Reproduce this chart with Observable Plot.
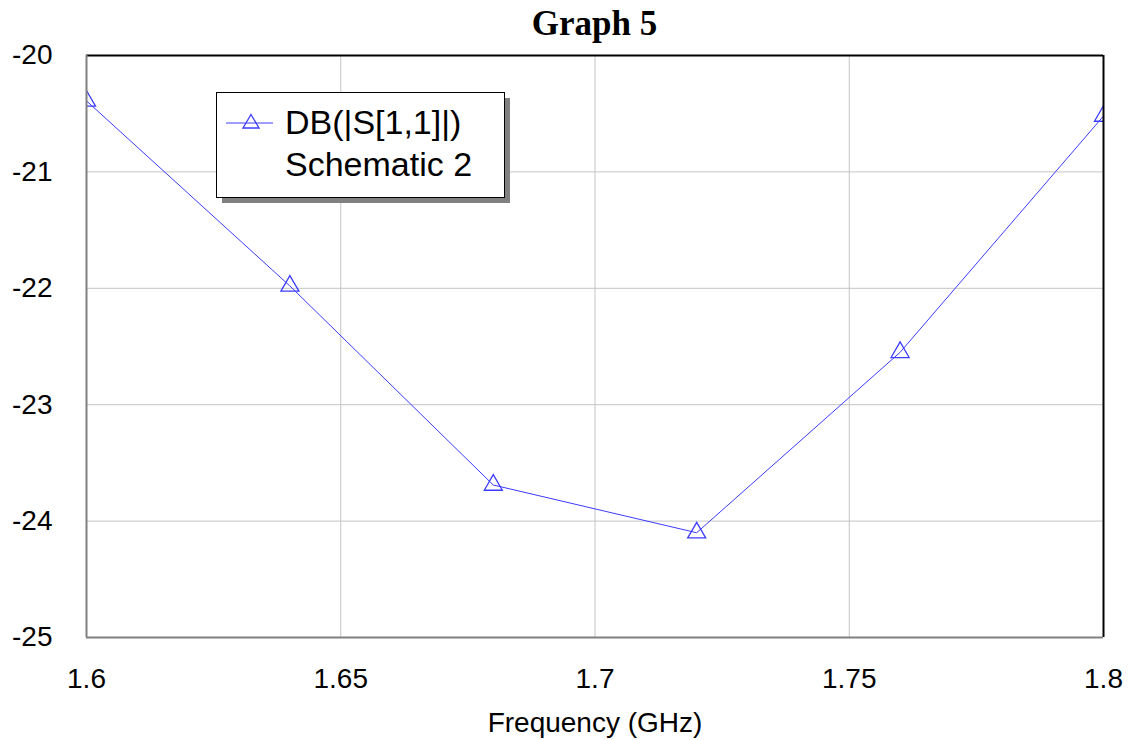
<!DOCTYPE html>
<html>
<head>
<meta charset="utf-8">
<script src="https://cdn.jsdelivr.net/npm/d3@7"></script>
<script src="https://cdn.jsdelivr.net/npm/@observablehq/plot@0.6"></script>
<style>
  html, body { margin: 0; padding: 0; background: #fff; }
  #wrap { position: relative; width: 1133px; height: 740px; overflow: hidden; }
  #title { position: absolute; z-index: 2; left: 86px; top: 0; width: 1017px; height: 44px;
    text-align: center; font: bold 35px "Liberation Serif", "Times New Roman", serif; line-height: 48px; color: #000; }
  #chart { position: absolute; z-index: 1; left: 0; top: 40px; }
  #legend { position: absolute; z-index: 3; left: 210px; top: 86px; }
</style>
</head>
<body>
<div id="wrap">
  <div id="title">Graph 5</div>
  <div id="chart"></div>
  <svg id="legend" width="310" height="125" xmlns="http://www.w3.org/2000/svg"></svg>
</div>
<script>
const freq = [1.6, 1.64, 1.68, 1.72, 1.76, 1.8];
const s11 = [-20.39, -21.98, -23.69, -24.10, -22.55, -20.52];
const xTicks = [1.6, 1.65, 1.7, 1.75, 1.8];
const yTicks = [-25, -24, -23, -22, -21, -20];
const seriesName = "DB(|S[1,1]|)";
const sourceName = "Schematic 2";
const lineColor = "#3c3cff";

const data = freq.map((f, i) => ({f, v: s11[i]}));

const chart = Plot.plot({
  width: 1133,
  height: 700,
  marginLeft: 86,
  marginRight: 30,
  marginTop: 15,
  marginBottom: 103,
  style: {fontFamily: "'Liberation Sans', Arial, sans-serif", fontSize: "28px", color: "#000", background: "transparent"},
  x: {domain: [1.6, 1.8]},
  y: {domain: [-25, -20]},
  marks: [
    Plot.gridX(xTicks.slice(1, -1), {stroke: "#c4c4c4", strokeOpacity: 1, strokeWidth: 1}),
    Plot.gridY(yTicks.slice(1, -1), {stroke: "#c4c4c4", strokeOpacity: 1, strokeWidth: 1}),
    Plot.axisX({ticks: xTicks, tickFormat: d => String(d), tickSize: 0, tickPadding: 31,
      label: "Frequency (GHz)", labelAnchor: "center", labelArrow: "none", labelOffset: 94}),
    Plot.axisY({ticks: yTicks, tickFormat: d => String(d), tickSize: 0, tickPadding: 34, label: null}),
    Plot.line(data, {x: "f", y: "v", stroke: lineColor, strokeWidth: 1}),
    Plot.dot(data, {x: "f", y: "v", symbol: "triangle", r: 6.7, stroke: lineColor, fill: "none", strokeWidth: 1.3, clip: "frame"}),
    Plot.ruleY([-20], {stroke: "#000", strokeWidth: 2}),
    Plot.ruleX([1.8], {stroke: "#000", strokeWidth: 2}),
    Plot.ruleX([1.6], {stroke: "#808080", strokeWidth: 2}),
    Plot.ruleY([-25], {stroke: "#808080", strokeWidth: 2})
  ]
});
document.getElementById("chart").appendChild(chart);

// legend
const lg = d3.select("#legend");
lg.append("rect").attr("x", 12).attr("y", 12).attr("width", 288).attr("height", 105).attr("fill", "#808080");
lg.append("rect").attr("x", 6.5).attr("y", 6.5).attr("width", 288).attr("height", 105).attr("fill", "#fff").attr("stroke", "#000").attr("stroke-width", 1);
lg.append("line").attr("x1", 16).attr("x2", 63).attr("y1", 37).attr("y2", 37).attr("stroke", lineColor).attr("stroke-width", 1);
lg.append("path").attr("d", "M41,28.5L49,42L33,42Z").attr("fill", "none").attr("stroke", lineColor).attr("stroke-width", 1.3);
lg.append("text").attr("x", 75).attr("y", 48).text(seriesName)
  .attr("font-family", "'Liberation Sans', Arial, sans-serif").attr("font-size", 34).attr("fill", "#000");
lg.append("text").attr("x", 75).attr("y", 90).text(sourceName)
  .attr("font-family", "'Liberation Sans', Arial, sans-serif").attr("font-size", 34).attr("fill", "#000");
</script>
</body>
</html>
